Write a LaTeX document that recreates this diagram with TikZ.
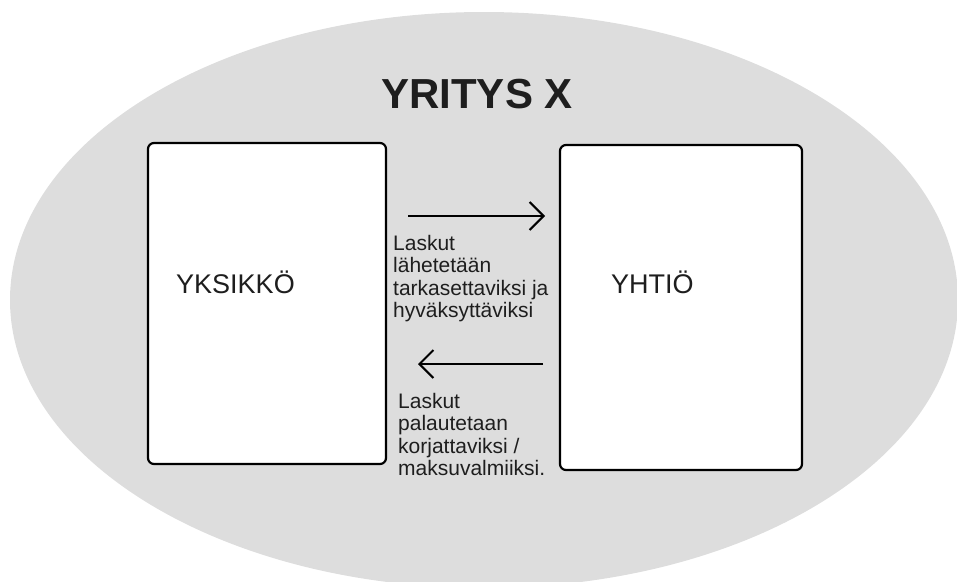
\documentclass[tikz,border=0pt]{standalone}
\usepackage{fontspec}
\setmainfont{Liberation Sans}
\usetikzlibrary{arrows.meta,shapes.geometric}
\definecolor{firmgray}{RGB}{221,221,221}
\definecolor{inktext}{RGB}{30,30,30}
\begin{document}
\begin{tikzpicture}[x=1pt,y=-1pt,
  unitbox/.style={draw=black, line width=2.2pt, fill=white, rounded corners=6pt, inner sep=0pt},
  boxname/.style={font=\fontsize{27}{32}\selectfont, anchor=base west, inner sep=0pt, text=inktext},
  flowtext/.style={font=\fontsize{21}{22.5}\selectfont, align=left, inner sep=0pt, anchor=north west, text=inktext},
  flow/.style={line width=2pt, -{Straight Barb[length=14pt,width=28pt,line width=2pt]}}]
\useasboundingbox (0,0) rectangle (957,581);
\clip (0,0) rectangle (957,581);

% the company as a whole
\node[ellipse, fill=firmgray, minimum width=948pt, minimum height=576pt, inner sep=0pt] (firm) at (484,300) {};
\node[font=\fontsize{42}{50}\selectfont\bfseries, anchor=base, inner sep=0pt, text=inktext] (title) at (477,108) {YRITYS X};

% the two parties
\node[unitbox, minimum width=238pt, minimum height=321pt] (unit) at (267,303.5) {};
\node[unitbox, minimum width=242pt, minimum height=325pt] (company) at (681,307.5) {};
\node[boxname] (unitname) at (176,293) {YKSIKKÖ};
\node[boxname] (companyname) at (611,293) {YHTIÖ};

% invoices sent for checking and approval
\coordinate (sendstart) at (408,216);
\coordinate (sendend) at (545,216);
\draw[flow] (sendstart) -- (sendend);
\node[flowtext] (sendtext) at (393,235) {Laskut\\lähetetään\\tarkasettaviksi ja\\hyväksyttäviksi};

% invoices returned for correction or payment
\coordinate (returnstart) at (543,364);
\coordinate (returnend) at (418,364);
\draw[flow] (returnstart) -- (returnend);
\node[flowtext] (returntext) at (398,393) {Laskut\\palautetaan\\korjattaviksi /\\maksuvalmiiksi.};
\end{tikzpicture}
\end{document}
